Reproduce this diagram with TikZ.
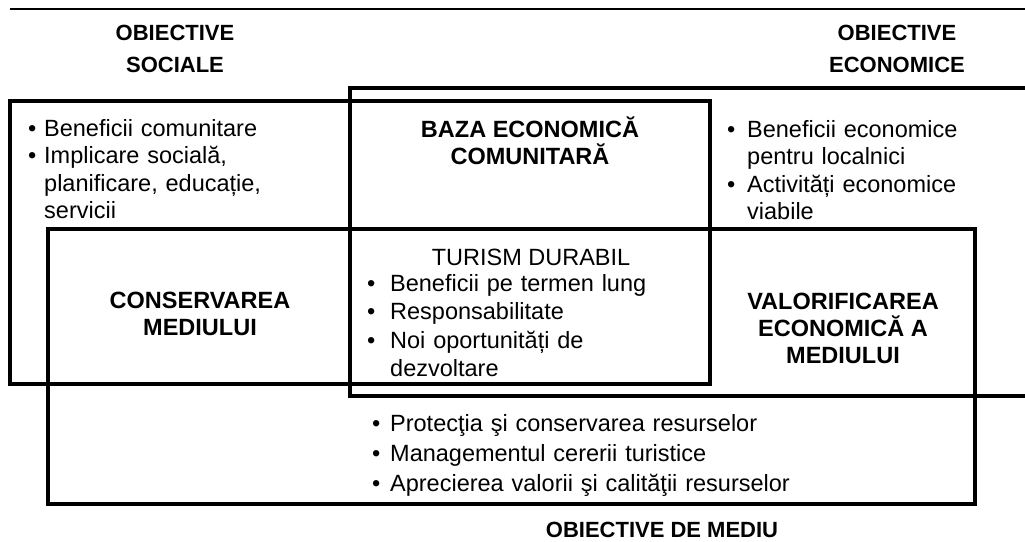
\documentclass[tikz,border=0pt]{standalone}
\usepackage{fontspec}
\setmainfont{Liberation Sans}
\usetikzlibrary{positioning}
\newcommand{\bodyfont}{\fontsize{23.5}{27.5}\selectfont}
\newcommand{\headfont}{\bfseries\fontsize{22}{32}\selectfont}
\newcommand{\bitem}[1][16pt]{\noindent\hangindent=#1\hangafter=1\makebox[#1][l]{\textbullet}\ignorespaces}

\begin{document}
\begin{tikzpicture}[x=1pt,y=-1pt,
    frame/.style={line width=4pt},
    head/.style={font=\headfont,align=center},
    ttl/.style={font=\bfseries\fontsize{23.5}{27}\selectfont,align=center},
    lst/.style={font=\bodyfont,text width=#1,align=left,inner sep=0pt,anchor=base west}]
 \useasboundingbox (0,0) rectangle (1025,541);
 % top rule
 \coordinate (ruleL) at (10,9);
 \coordinate (ruleR) at (1025,9);
 \draw[line width=2pt] (ruleL) -- (ruleR);
 % the three frames
 \coordinate (soc1) at (10,101);  \coordinate (soc2) at (710,384);
 \coordinate (eco1) at (350,88);  \coordinate (eco2) at (1025,396);
 \coordinate (env1) at (48,229);  \coordinate (env2) at (975,504);
 \draw[frame] (soc1) rectangle (soc2);
 \draw[frame] (eco2 |- eco1) -- (eco1) -- (eco1 |- eco2) -- (eco2);
 \draw[frame] (env1) rectangle (env2);
 % headings
 \node[head] (socT) at (175,49) {OBIECTIVE\\SOCIALE};
 \node[head] (ecoT) at (897,49) {OBIECTIVE\\ECONOMICE};
 \node[head] (envT) at (662,530) {OBIECTIVE DE MEDIU};
 % titles inside the frames
 \node[ttl] (baza) at (530,141) {BAZA ECONOMICĂ\\COMUNITARĂ};
 \node[ttl] (cons) at (200,314) {CONSERVAREA\\MEDIULUI};
 \node[ttl] (valo) at (843,328) {VALORIFICAREA\\ECONOMICĂ A\\MEDIULUI};
 \node[font=\bodyfont] (turism) at (531,257) {TURISM DURABIL};
 % bullet lists
 \node[lst=320pt] (socL) at (28,136)
  {\bitem Beneficii comunitare\par
   \bitem Implicare socială,\newline planificare, educație,\newline servicii\par};
 \node[lst=290pt] (ecoL) at (727,137)
  {\bitem[20pt] Beneficii economice\newline pentru localnici\par
   \bitem[20pt] Activități economice\newline viabile\par};
 \node[lst=330pt,font=\fontsize{23.5}{28.5}\selectfont] (turL) at (367,291)
  {\bitem[23pt] Beneficii pe termen lung\par
   \bitem[23pt] Responsabilitate\par
   \bitem[23pt] Noi oportunități de\newline dezvoltare\par};
 \node[lst=560pt,font=\fontsize{23.5}{30}\selectfont] (envL) at (372,431)
  {\bitem[18pt] Protecţia şi conservarea resurselor\par
   \bitem[18pt] Managementul cererii turistice\par
   \bitem[18pt] Aprecierea valorii şi calităţii resurselor\par};
\end{tikzpicture}
\end{document}
